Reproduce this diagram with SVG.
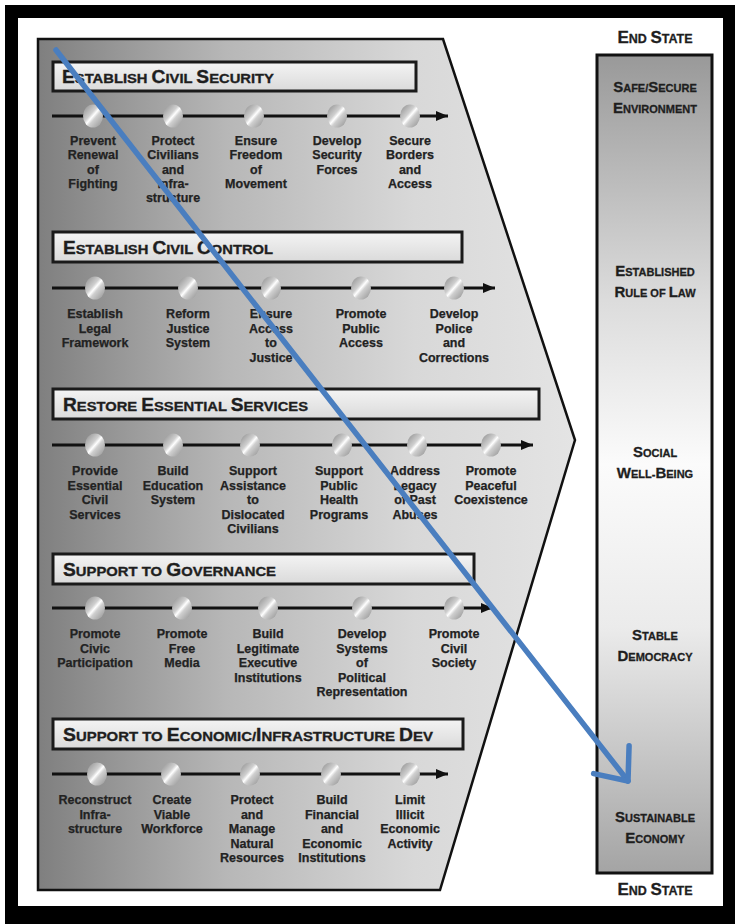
<svg xmlns="http://www.w3.org/2000/svg" width="735" height="924" viewBox="0 0 735 924">
<style>
.lbl{font-family:"Liberation Sans",Arial,sans-serif;font-weight:bold;font-size:12.5px;fill:#222;stroke:#222;stroke-width:0.25;text-anchor:middle}
.hdr{font-family:"Liberation Sans",Arial,sans-serif;font-weight:bold;font-size:13.5px;fill:#1e1e1e;stroke:#1e1e1e;stroke-width:0.35}
.hdr .c{font-size:17.5px}
.es{font-family:"Liberation Sans",Arial,sans-serif;font-weight:bold;font-size:11px;fill:#1e1e1e;stroke:#1e1e1e;stroke-width:0.3;text-anchor:middle}
.es .c{font-size:15px}
.et{font-family:"Liberation Sans",Arial,sans-serif;font-weight:bold;font-size:12.5px;fill:#1e1e1e;stroke:#1e1e1e;stroke-width:0.3;text-anchor:middle}
.et .c{font-size:17px}
.hbox{fill:url(#hdrGrad);stroke:#1a1a1a;stroke-width:3}
.node{fill:url(#nodeGrad)}
.tl{stroke:#111;stroke-width:3;fill:none;marker-end:url(#tlArrow)}
.blue{stroke:#4a7ebf;stroke-width:5.5;fill:none;stroke-linecap:round;marker-end:url(#blueHead)}
</style>
<defs>
<linearGradient id="polyGrad" x1="0" y1="0" x2="1" y2="0">
<stop offset="0" stop-color="#7f7f7f"/>
<stop offset="0.35" stop-color="#b7b7b7"/>
<stop offset="0.7" stop-color="#d8d8d8"/>
<stop offset="1" stop-color="#e4e4e4"/>
</linearGradient>
<linearGradient id="colGrad" x1="0" y1="0" x2="0" y2="1">
<stop offset="0" stop-color="#999999"/>
<stop offset="0.3" stop-color="#dcdcdc"/>
<stop offset="0.5" stop-color="#fbfbfb"/>
<stop offset="0.7" stop-color="#ebebeb"/>
<stop offset="1" stop-color="#a4a4a4"/>
</linearGradient>
<linearGradient id="hdrGrad" x1="0" y1="0" x2="0" y2="1">
<stop offset="0" stop-color="#f4f4f4"/>
<stop offset="1" stop-color="#dadada"/>
</linearGradient>
<linearGradient id="nodeGrad" x1="0" y1="0" x2="1" y2="1">
<stop offset="0" stop-color="#8a8a8a"/>
<stop offset="0.4" stop-color="#cfcfcf"/>
<stop offset="0.5" stop-color="#ffffff"/>
<stop offset="0.6" stop-color="#cfcfcf"/>
<stop offset="1" stop-color="#8f8f8f"/>
</linearGradient>
<marker id="tlArrow" markerUnits="userSpaceOnUse" viewBox="0 0 12 10" refX="12" refY="5" markerWidth="12" markerHeight="10" orient="auto">
<path d="M0,0 L12,5 L0,10 z" fill="#111"/>
</marker>
<marker id="blueHead" markerUnits="userSpaceOnUse" viewBox="-32 -28 38 56" refX="0" refY="0" markerWidth="38" markerHeight="56" orient="auto" overflow="visible">
<path d="M-27,-22.5 L0,0 L-27,22.5" fill="none" stroke="#4a7ebf" stroke-width="5.5" stroke-linecap="round" stroke-linejoin="round"/>
</marker>
</defs>

<rect x="0" y="0" width="735" height="924" fill="#ffffff"/>
<path d="M5,5 H735 V924 H5 Z M18,18 V906 H723 V18 Z" fill="#000" fill-rule="evenodd"/>

<g id="lines-of-effort-panel">
<path d="M38,39 L443,39 L575,440 L440,890 L38,890 Z" fill="url(#polyGrad)" stroke="#111" stroke-width="2.5"/>
</g>

<g id="end-state-column">
<rect x="597" y="55" width="115" height="818" fill="url(#colGrad)" stroke="#111" stroke-width="3"/>
</g>

<g id="end-state-top"><text class="et" x="655" y="43"><tspan class="c">E</tspan>ND <tspan class="c">S</tspan>TATE</text></g>
<g id="end-state-bottom"><text class="et" x="655" y="895"><tspan class="c">E</tspan>ND <tspan class="c">S</tspan>TATE</text></g>
<g id="es-safe"><text class="es" x="655" y="92"><tspan class="c">S</tspan>AFE/<tspan class="c">S</tspan>ECURE</text><text class="es" x="655" y="113"><tspan class="c">E</tspan>NVIRONMENT</text></g>
<g id="es-law"><text class="es" x="655" y="276"><tspan class="c">E</tspan>STABLISHED</text><text class="es" x="655" y="297"><tspan class="c">R</tspan>ULE OF <tspan class="c">L</tspan>AW</text></g>
<g id="es-social"><text class="es" x="655" y="457"><tspan class="c">S</tspan>OCIAL</text><text class="es" x="655" y="478"><tspan class="c">W</tspan>ELL-<tspan class="c">B</tspan>EING</text></g>
<g id="es-democracy"><text class="es" x="655" y="640"><tspan class="c">S</tspan>TABLE</text><text class="es" x="655" y="661"><tspan class="c">D</tspan>EMOCRACY</text></g>
<g id="es-economy"><text class="es" x="655" y="822"><tspan class="c">S</tspan>USTAINABLE</text><text class="es" x="655" y="843"><tspan class="c">E</tspan>CONOMY</text></g>

<g id="hdr-security"><rect class="hbox" x="53" y="62" width="363" height="29"/><text class="hdr" x="62" y="83" textLength="212" lengthAdjust="spacingAndGlyphs"><tspan class="c">E</tspan>STABLISH <tspan class="c">C</tspan>IVIL <tspan class="c">S</tspan>ECURITY</text></g>
<g id="hdr-control"><rect class="hbox" x="53" y="232" width="409" height="30"/><text class="hdr" x="63" y="254" textLength="210" lengthAdjust="spacingAndGlyphs"><tspan class="c">E</tspan>STABLISH <tspan class="c">C</tspan>IVIL <tspan class="c">C</tspan>ONTROL</text></g>
<g id="hdr-services"><rect class="hbox" x="53" y="389" width="486" height="30"/><text class="hdr" x="63" y="411" textLength="245" lengthAdjust="spacingAndGlyphs"><tspan class="c">R</tspan>ESTORE <tspan class="c">E</tspan>SSENTIAL <tspan class="c">S</tspan>ERVICES</text></g>
<g id="hdr-governance"><rect class="hbox" x="53" y="554" width="421" height="30"/><text class="hdr" x="63" y="576" textLength="213" lengthAdjust="spacingAndGlyphs"><tspan class="c">S</tspan>UPPORT TO <tspan class="c">G</tspan>OVERNANCE</text></g>
<g id="hdr-economic"><rect class="hbox" x="53" y="719" width="410" height="30"/><text class="hdr" x="63" y="741" textLength="370" lengthAdjust="spacingAndGlyphs"><tspan class="c">S</tspan>UPPORT TO <tspan class="c">E</tspan>CONOMIC/<tspan class="c">I</tspan>NFRASTRUCTURE <tspan class="c">D</tspan>EV</text></g>

<g id="connectors">
<path class="tl" d="M52,116 H448"/>
<path class="tl" d="M52,288 H495"/>
<path class="tl" d="M52,445 H533"/>
<path class="tl" d="M52,608 H493"/>
<path class="tl" d="M52,774 H448"/>
</g>

<!-- Section 1 -->
<g id="n1-1"><ellipse class="node" cx="93" cy="116" rx="10" ry="11.5"/><text class="lbl" x="93" y="145"><tspan x="93">Prevent</tspan><tspan x="93" dy="14.3">Renewal</tspan><tspan x="93" dy="14.3">of</tspan><tspan x="93" dy="14.3">Fighting</tspan></text></g>
<g id="n1-2"><ellipse class="node" cx="173" cy="116" rx="10" ry="11.5"/><text class="lbl" x="173" y="145"><tspan x="173">Protect</tspan><tspan x="173" dy="14.3">Civilians</tspan><tspan x="173" dy="14.3">and</tspan><tspan x="173" dy="14.3">Infra-</tspan><tspan x="173" dy="14.3">structure</tspan></text></g>
<g id="n1-3"><ellipse class="node" cx="254" cy="116" rx="10" ry="11.5"/><text class="lbl" x="256" y="145"><tspan x="256">Ensure</tspan><tspan x="256" dy="14.3">Freedom</tspan><tspan x="256" dy="14.3">of</tspan><tspan x="256" dy="14.3">Movement</tspan></text></g>
<g id="n1-4"><ellipse class="node" cx="337" cy="116" rx="10" ry="11.5"/><text class="lbl" x="337" y="145"><tspan x="337">Develop</tspan><tspan x="337" dy="14.3">Security</tspan><tspan x="337" dy="14.3">Forces</tspan></text></g>
<g id="n1-5"><ellipse class="node" cx="410" cy="116" rx="10" ry="11.5"/><text class="lbl" x="410" y="145"><tspan x="410">Secure</tspan><tspan x="410" dy="14.3">Borders</tspan><tspan x="410" dy="14.3">and</tspan><tspan x="410" dy="14.3">Access</tspan></text></g>

<!-- Section 2 -->
<g id="n2-1"><ellipse class="node" cx="95" cy="288" rx="10" ry="11.5"/><text class="lbl" x="95" y="318"><tspan x="95">Establish</tspan><tspan x="95" dy="14.5">Legal</tspan><tspan x="95" dy="14.5">Framework</tspan></text></g>
<g id="n2-2"><ellipse class="node" cx="188" cy="288" rx="10" ry="11.5"/><text class="lbl" x="188" y="318"><tspan x="188">Reform</tspan><tspan x="188" dy="14.5">Justice</tspan><tspan x="188" dy="14.5">System</tspan></text></g>
<g id="n2-3"><ellipse class="node" cx="271" cy="288" rx="10" ry="11.5"/><text class="lbl" x="271" y="318"><tspan x="271">Ensure</tspan><tspan x="271" dy="14.5">Access</tspan><tspan x="271" dy="14.5">to</tspan><tspan x="271" dy="14.5">Justice</tspan></text></g>
<g id="n2-4"><ellipse class="node" cx="361" cy="288" rx="10" ry="11.5"/><text class="lbl" x="361" y="318"><tspan x="361">Promote</tspan><tspan x="361" dy="14.5">Public</tspan><tspan x="361" dy="14.5">Access</tspan></text></g>
<g id="n2-5"><ellipse class="node" cx="454" cy="288" rx="10" ry="11.5"/><text class="lbl" x="454" y="318"><tspan x="454">Develop</tspan><tspan x="454" dy="14.5">Police</tspan><tspan x="454" dy="14.5">and</tspan><tspan x="454" dy="14.5">Corrections</tspan></text></g>

<!-- Section 3 -->
<g id="n3-1"><ellipse class="node" cx="95" cy="445" rx="10" ry="11.5"/><text class="lbl" x="95" y="475"><tspan x="95">Provide</tspan><tspan x="95" dy="14.5">Essential</tspan><tspan x="95" dy="14.5">Civil</tspan><tspan x="95" dy="14.5">Services</tspan></text></g>
<g id="n3-2"><ellipse class="node" cx="173" cy="445" rx="10" ry="11.5"/><text class="lbl" x="173" y="475"><tspan x="173">Build</tspan><tspan x="173" dy="14.5">Education</tspan><tspan x="173" dy="14.5">System</tspan></text></g>
<g id="n3-3"><ellipse class="node" cx="250" cy="445" rx="10" ry="11.5"/><text class="lbl" x="253" y="475"><tspan x="253">Support</tspan><tspan x="253" dy="14.5">Assistance</tspan><tspan x="253" dy="14.5">to</tspan><tspan x="253" dy="14.5">Dislocated</tspan><tspan x="253" dy="14.5">Civilians</tspan></text></g>
<g id="n3-4"><ellipse class="node" cx="342" cy="445" rx="10" ry="11.5"/><text class="lbl" x="339" y="475"><tspan x="339">Support</tspan><tspan x="339" dy="14.5">Public</tspan><tspan x="339" dy="14.5">Health</tspan><tspan x="339" dy="14.5">Programs</tspan></text></g>
<g id="n3-5"><ellipse class="node" cx="417" cy="445" rx="10" ry="11.5"/><text class="lbl" x="415" y="475"><tspan x="415">Address</tspan><tspan x="415" dy="14.5">Legacy</tspan><tspan x="415" dy="14.5">of Past</tspan><tspan x="415" dy="14.5">Abuses</tspan></text></g>
<g id="n3-6"><ellipse class="node" cx="491" cy="445" rx="10" ry="11.5"/><text class="lbl" x="491" y="475"><tspan x="491">Promote</tspan><tspan x="491" dy="14.5">Peaceful</tspan><tspan x="491" dy="14.5">Coexistence</tspan></text></g>

<!-- Section 4 -->
<g id="n4-1"><ellipse class="node" cx="95" cy="608" rx="10" ry="11.5"/><text class="lbl" x="95" y="638"><tspan x="95">Promote</tspan><tspan x="95" dy="14.5">Civic</tspan><tspan x="95" dy="14.5">Participation</tspan></text></g>
<g id="n4-2"><ellipse class="node" cx="182" cy="608" rx="10" ry="11.5"/><text class="lbl" x="182" y="638"><tspan x="182">Promote</tspan><tspan x="182" dy="14.5">Free</tspan><tspan x="182" dy="14.5">Media</tspan></text></g>
<g id="n4-3"><ellipse class="node" cx="268" cy="608" rx="10" ry="11.5"/><text class="lbl" x="268" y="638"><tspan x="268">Build</tspan><tspan x="268" dy="14.5">Legitimate</tspan><tspan x="268" dy="14.5">Executive</tspan><tspan x="268" dy="14.5">Institutions</tspan></text></g>
<g id="n4-4"><ellipse class="node" cx="362" cy="608" rx="10" ry="11.5"/><text class="lbl" x="362" y="638"><tspan x="362">Develop</tspan><tspan x="362" dy="14.5">Systems</tspan><tspan x="362" dy="14.5">of</tspan><tspan x="362" dy="14.5">Political</tspan><tspan x="362" dy="14.5">Representation</tspan></text></g>
<g id="n4-5"><ellipse class="node" cx="454" cy="608" rx="10" ry="11.5"/><text class="lbl" x="454" y="638"><tspan x="454">Promote</tspan><tspan x="454" dy="14.5">Civil</tspan><tspan x="454" dy="14.5">Society</tspan></text></g>

<!-- Section 5 -->
<g id="n5-1"><ellipse class="node" cx="97" cy="774" rx="10" ry="11.5"/><text class="lbl" x="95" y="804"><tspan x="95">Reconstruct</tspan><tspan x="95" dy="14.5">Infra-</tspan><tspan x="95" dy="14.5">structure</tspan></text></g>
<g id="n5-2"><ellipse class="node" cx="171" cy="774" rx="10" ry="11.5"/><text class="lbl" x="172" y="804"><tspan x="172">Create</tspan><tspan x="172" dy="14.5">Viable</tspan><tspan x="172" dy="14.5">Workforce</tspan></text></g>
<g id="n5-3"><ellipse class="node" cx="250" cy="774" rx="10" ry="11.5"/><text class="lbl" x="252" y="804"><tspan x="252">Protect</tspan><tspan x="252" dy="14.5">and</tspan><tspan x="252" dy="14.5">Manage</tspan><tspan x="252" dy="14.5">Natural</tspan><tspan x="252" dy="14.5">Resources</tspan></text></g>
<g id="n5-4"><ellipse class="node" cx="331" cy="774" rx="10" ry="11.5"/><text class="lbl" x="332" y="804"><tspan x="332">Build</tspan><tspan x="332" dy="14.5">Financial</tspan><tspan x="332" dy="14.5">and</tspan><tspan x="332" dy="14.5">Economic</tspan><tspan x="332" dy="14.5">Institutions</tspan></text></g>
<g id="n5-5"><ellipse class="node" cx="410" cy="774" rx="10" ry="11.5"/><text class="lbl" x="410" y="804"><tspan x="410">Limit</tspan><tspan x="410" dy="14.5">Illicit</tspan><tspan x="410" dy="14.5">Economic</tspan><tspan x="410" dy="14.5">Activity</tspan></text></g>

<g id="blue-arrow">
<path class="blue" d="M56,50 L628,781"/>
</g>
</svg>
